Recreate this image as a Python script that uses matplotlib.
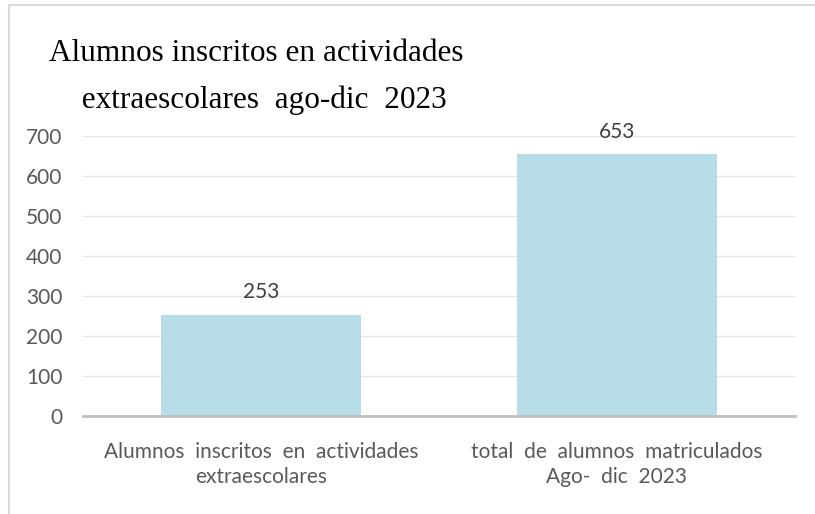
import matplotlib.pyplot as plt
from matplotlib.patches import Rectangle

categories = ['Alumnos  inscritos  en  actividades\nextraescolares',
              'total  de  alumnos  matriculados\nAgo-  dic  2023']
values = [253, 653]
yticks = [0, 100, 200, 300, 400, 500, 600, 700]
title_lines = ['Alumnos inscritos en actividades', '  extraescolares  ago-dic  2023']

W, H = 815, 514
fig = plt.figure(figsize=(W / 100, H / 100), dpi=100)

# outer chart border (only top and left visible in the crop)
fig.patches.append(Rectangle((9 / W, -0.1), 1.2, 1 - 5 / H + 0.1, transform=fig.transFigure,
                             fill=False, edgecolor='#d9d9d9', linewidth=1.5))

ax = fig.add_axes([83 / W, (H - 416) / H, (795 - 83) / W, (416 - 135.5) / H])
x = range(len(categories))
ax.bar(x, values, width=0.56, color='#b7dde8', zorder=2)
ax.set_xlim(-0.5, 1.5)
ax.set_ylim(0, 700)
ax.set_yticks(yticks)
ax.grid(axis='y', color='#e6e6e6', linewidth=1, zorder=0)
for s in ['top', 'right', 'left']:
    ax.spines[s].set_visible(False)
ax.spines['bottom'].set_color('#bfbfbf')
ax.spines['bottom'].set_linewidth(2)
ax.tick_params(axis='both', length=0, labelsize=15, labelcolor='#595959')
ax.tick_params(axis='y', pad=15)
for lbl in ax.get_yticklabels():
    lbl.set_fontfamily('Lato')
ax.set_xticks(list(x))
ax.set_xticklabels(categories, fontfamily='Lato', fontsize=15, color='#595959', linespacing=1.3)
ax.tick_params(axis='x', pad=19)

for i, v in enumerate(values):
    ax.annotate(str(v), (i, v), xytext=(0, 9), textcoords='offset points',
                ha='center', va='bottom', fontsize=15, color='#404040', fontfamily='Lato')

# title, two centred lines
for line, base in zip(title_lines, [61, 108]):
    fig.text(256 / W, 1 - base / H, line, ha='center', va='baseline', fontsize=22.5,
             fontfamily='Liberation Serif', color='black')

fig.savefig('out.png', dpi=100)
